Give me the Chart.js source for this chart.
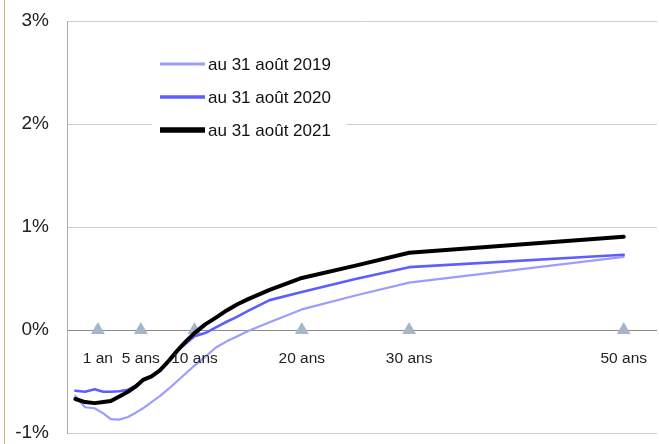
<!DOCTYPE html>
<html lang="fr">
<head>
<meta charset="utf-8">
<script src="https://cdn.jsdelivr.net/npm/chart.js@4.4.1/dist/chart.umd.min.js"></script>
<style>
  html, body { margin: 0; padding: 0; background: #fff; }
  #wrap { position: relative; width: 659px; height: 444px; overflow: hidden; }
  #edge { position: absolute; left: 4px; top: 0; width: 1px; height: 444px; background: #cfb27c; }
  canvas { position: absolute; left: 0; top: 0; }
</style>
</head>
<body>
<div id="wrap"><div id="edge"></div><canvas id="c" width="659" height="444"></canvas></div>
<script>
// Maturités (en années) et taux de la courbe pour chaque date d'arrêté (en %)
const maturites = [-1.1, -0.2, 0.7, 1.5, 2.2, 3, 3.8, 4.5, 5.2, 6, 6.8, 7.6, 8.4, 9.2, 10, 11, 12, 13, 14, 15, 17, 20, 25, 30, 50];
const taux2019 = [-0.64, -0.75, -0.76, -0.81, -0.865, -0.87, -0.845, -0.805, -0.76, -0.70, -0.64, -0.57, -0.495, -0.42, -0.345, -0.26, -0.17, -0.11, -0.06, -0.01, 0.075, 0.20, 0.335, 0.46, 0.71];
const taux2020 = [-0.59, -0.60, -0.575, -0.60, -0.60, -0.595, -0.58, -0.54, -0.49, -0.45, -0.39, -0.30, -0.20, -0.13, -0.06, -0.03, 0.025, 0.08, 0.13, 0.185, 0.29, 0.37, 0.495, 0.61, 0.73];
const taux2021 = [-0.67, -0.70, -0.71, -0.70, -0.69, -0.645, -0.60, -0.55, -0.485, -0.45, -0.39, -0.30, -0.20, -0.11, -0.03, 0.055, 0.12, 0.19, 0.25, 0.30, 0.39, 0.505, 0.625, 0.75, 0.905];

// Repères de maturité posés sur l'axe 0 %
const reperes = [1, 5, 10, 20, 30, 50];
const reperesLabels = ['1 an', '5 ans', '10 ans', '20 ans', '30 ans', '50 ans'];

// Graduations de l'axe des taux
const yTicks = [-1, 0, 1, 2, 3];

const FONT = '"Liberation Sans", Arial, sans-serif';

function points(values) {
  return maturites.map((m, i) => ({ x: m, y: values[i] }));
}

const series = [
  { label: 'au 31 août 2019', data: taux2019, color: '#9c9cff', width: 2.2, legendWidth: 3, order: 3 },
  { label: 'au 31 août 2020', data: taux2020, color: '#5e5eff', width: 2.6, legendWidth: 3.5, order: 2 },
  { label: 'au 31 août 2021', data: taux2021, color: '#000000', width: 4, legendWidth: 5.5, order: 1 }
];

// Légende encadrée de blanc, placée dans la zone du graphique
const legendInside = {
  id: 'legendInside',
  afterDraw(chart) {
    const ctx = chart.ctx;
    ctx.save();
    ctx.fillStyle = '#ffffff';
    ctx.fillRect(152, 46, 195, 98);
    ctx.font = '17px ' + FONT;
    ctx.textBaseline = 'middle';
    ctx.textAlign = 'left';
    series.forEach((s, i) => {
      const y = 64 + i * 33;
      ctx.strokeStyle = s.color;
      ctx.lineWidth = s.legendWidth;
      ctx.beginPath();
      ctx.moveTo(160, y);
      ctx.lineTo(205, y);
      ctx.stroke();
      ctx.fillStyle = '#111111';
      ctx.fillText(s.label, 208, y + 1);
    });
    ctx.restore();
  }
};

// Libellés des repères de maturité sous l'axe 0 %
const repereLabels = {
  id: 'repereLabels',
  afterDatasetsDraw(chart) {
    const ctx = chart.ctx;
    const xs = chart.scales.x, ys = chart.scales.y;
    ctx.save();
    ctx.font = '15.5px ' + FONT;
    ctx.fillStyle = '#222222';
    ctx.textAlign = 'center';
    ctx.textBaseline = 'middle';
    reperes.forEach((m, i) => {
      ctx.fillText(reperesLabels[i], xs.getPixelForValue(m), ys.getPixelForValue(0) + 29);
    });
    ctx.restore();
  }
};

const datasets = series.map(s => ({
  type: 'line',
  label: s.label,
  data: points(s.data),
  borderColor: s.color,
  borderWidth: s.width,
  pointRadius: 0,
  tension: 0,
  fill: false,
  order: s.order,
  borderCapStyle: 'round',
  borderJoinStyle: 'round'
}));

datasets.push({
  type: 'scatter',
  label: 'repères',
  data: reperes.map(m => ({ x: m, y: 0 })),
  pointStyle: 'triangle',
  pointRadius: 8,
  backgroundColor: '#a6b5ca',
  borderColor: '#a6b5ca',
  borderWidth: 0,
  order: 4
});

new Chart(document.getElementById('c'), {
  data: { datasets },
  options: {
    responsive: false,
    animation: false,
    devicePixelRatio: 1,
    layout: { autoPadding: false, padding: { top: 21, right: 2, bottom: 11, left: 0 } },
    plugins: { legend: { display: false }, tooltip: { enabled: false } },
    scales: {
      x: {
        type: 'linear',
        min: -1.88,
        max: 53.1,
        display: false
      },
      y: {
        type: 'linear',
        min: -1,
        max: 3,
        afterBuildTicks: s => { s.ticks = yTicks.map(v => ({ value: v })); },
        afterFit: s => {
          s.width = 67;
          s.paddingTop = 0;
          s.paddingBottom = 0;
          s.paddingLeft = 0;
          s.paddingRight = 0;
        },
        grid: {
          drawTicks: false,
          color: c => (c.tick && c.tick.value === 0) ? '#8a8a8a' : '#cdcdcd',
          lineWidth: 1
        },
        border: { display: true, color: '#a9a9a9', width: 1 },
        ticks: {
          padding: 18,
          color: '#222222',
          font: { family: FONT, size: 19 },
          callback: v => v + '%'
        }
      }
    }
  },
  plugins: [legendInside, repereLabels]
});
</script>
</body>
</html>
